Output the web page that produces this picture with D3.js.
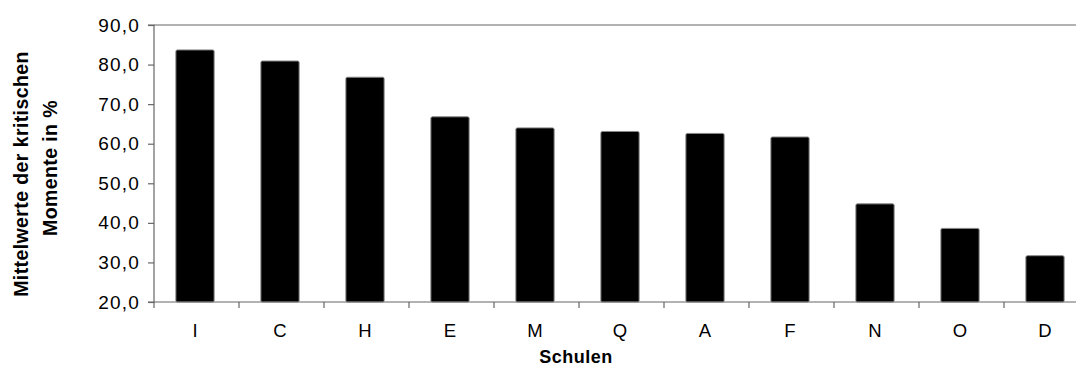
<!DOCTYPE html>
<html>
<head>
<meta charset="utf-8">
<script src="https://cdn.jsdelivr.net/npm/d3@7"></script>
<style>
  html, body { margin: 0; padding: 0; background: #fff; }
  svg { display: block; }
  text { font-family: "Liberation Sans", Arial, sans-serif; fill: #000; }
</style>
</head>
<body>
<svg id="chart" width="1076" height="367"></svg>
<script>
const categories = ["I", "C", "H", "E", "M", "Q", "A", "F", "N", "O", "D"];
const values = [83.7, 80.9, 76.8, 66.8, 64.0, 63.1, 62.6, 61.7, 44.8, 38.6, 31.7];
const yTicks = [20, 30, 40, 50, 60, 70, 80, 90];
const yTitleLines = ["Mittelwerte der kritischen", "Momente  in %"];
const xTitle = "Schulen";

(function () {
const svg = d3.select("#chart");
const pLeft = 154, pRight = 1089, pTop = 25, pBottom = 302;
const axisColor = "#666";

const x = d3.scaleBand().domain(categories).range([pLeft, pRight]).padding(0);
const y = d3.scaleLinear().domain([20, 90]).range([pBottom, pTop]);

// top border line
svg.append("line")
  .attr("x1", pLeft).attr("x2", pRight)
  .attr("y1", y(90)).attr("y2", y(90))
  .attr("stroke", axisColor).attr("stroke-width", 1.2);

// bars
const barFrac = 0.45;
svg.append("g").selectAll("rect")
  .data(categories)
  .join("rect")
  .attr("x", (d) => x(d) + x.bandwidth() * (1 - barFrac) / 2 - 1.5)
  .attr("width", x.bandwidth() * barFrac)
  .attr("y", (d, i) => y(values[i]))
  .attr("height", (d, i) => y(20) - y(values[i]))
  .attr("fill", "#000")
  .attr("stroke", "#888")
  .attr("stroke-width", 1)
  .attr("rx", 1.5);

// y axis
const yAxis = d3.axisLeft(y).tickValues(yTicks).tickSize(6).tickPadding(8)
  .tickFormat((d) => d3.format(".1f")(d).replace(".", ","));
const gy = svg.append("g").attr("transform", `translate(${pLeft},0)`).call(yAxis);
gy.selectAll("path, line").attr("stroke", axisColor).attr("stroke-width", 1.2);
gy.select(".domain").attr("d", `M-6,${pTop}H0V${pBottom}H-6`);
gy.selectAll("text").style("font-size", "19px").attr("letter-spacing", "1.2px")
  .attr("font-family", "Liberation Sans, Arial, sans-serif").attr("fill", "#000");

// x axis: ticks at band boundaries
const gx = svg.append("g").attr("transform", `translate(0,${pBottom})`);
gx.append("line").attr("x1", pLeft).attr("x2", pRight).attr("y1", 0).attr("y2", 0)
  .attr("stroke", axisColor).attr("stroke-width", 1.2);
gx.selectAll("line.tick")
  .data(categories)
  .join("line")
  .attr("class", "tick")
  .attr("x1", (d) => x(d)).attr("x2", (d) => x(d))
  .attr("y1", 0).attr("y2", 6)
  .attr("stroke", axisColor).attr("stroke-width", 1.2);
gx.selectAll("text")
  .data(categories)
  .join("text")
  .attr("x", (d) => x(d) + x.bandwidth() / 2 - 1.5)
  .attr("y", 35)
  .attr("text-anchor", "middle")
  .style("font-size", "18.5px")
  .text((d) => d);

// axis titles
svg.append("text")
  .attr("x", 576).attr("y", 363)
  .attr("text-anchor", "middle")
  .style("font-size", "18px").style("font-weight", "bold")
  .attr("letter-spacing", "0.5px")
  .text(xTitle);

const yTitleX = [28, 57];
const yTitleY = [174, 168];
yTitleLines.forEach((t, i) => {
  svg.append("text")
    .attr("transform", `translate(${yTitleX[i]},${yTitleY[i]}) rotate(-90)`)
    .attr("text-anchor", "middle")
    .style("font-size", "19.5px").style("font-weight", "bold")
    .attr("letter-spacing", "0.4px")
    .text(t);
});
})();
</script>
</body>
</html>
